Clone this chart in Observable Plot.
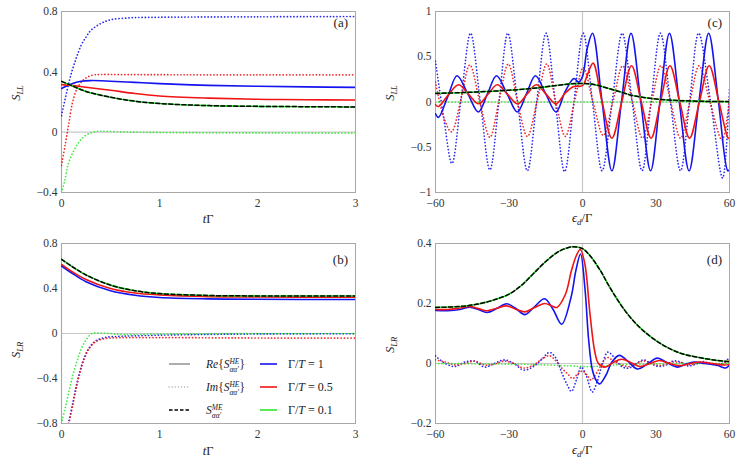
<!DOCTYPE html>
<html><head><meta charset="utf-8">
<script src="https://cdn.jsdelivr.net/npm/d3@7"></script>
<script src="https://cdn.jsdelivr.net/npm/@observablehq/plot@0.6"></script>
<style>
body{margin:0;background:#fff;}
#wrap{position:relative;width:747px;height:467px;overflow:hidden;background:#fff;}
#wrap svg.p{position:absolute;}
#wrap svg.p text{font-family:"Liberation Serif","Times New Roman",serif !important;font-size:11.5px;}
#over{position:absolute;left:0;top:0;}
</style></head>
<body><div id="wrap"></div>
<script>
// ---------- Panel (a): S_LL vs tΓ ----------
const aBlueIm = [[0,0.11],[0.058,0.28],[0.1,0.39],[0.15,0.49],[0.2,0.575],[0.25,0.63],[0.3,0.675],[0.4,0.72],[0.5,0.745],[0.7,0.758],[1,0.762],[2,0.765],[3,0.767]];
const aRedIm = [[0,-0.22],[0.04,-0.075],[0.075,0.057],[0.11,0.19],[0.16,0.29],[0.23,0.35],[0.31,0.377],[0.4,0.382],[0.6,0.382],[1,0.381],[2,0.38],[3,0.38]];
const aGreenIm = [[0,-0.4],[0.03,-0.33],[0.07,-0.21],[0.12,-0.13],[0.18,-0.064],[0.25,-0.02],[0.32,0],[0.4,0.006],[0.6,0.002],[1,-0.002],[2,-0.005],[3,-0.006]];
const aBlueRe = [[0,0.29],[0.1,0.32],[0.2,0.338],[0.3,0.342],[0.5,0.338],[0.75,0.33],[1,0.322],[1.5,0.31],[2,0.304],[2.5,0.3],[3,0.297]];
const aRedRe = [[0,0.315],[0.1,0.31],[0.25,0.298],[0.5,0.278],[0.75,0.256],[1,0.24],[1.5,0.226],[2,0.218],[2.5,0.215],[3,0.213]];
const aGreenRe = [[0,0.337],[0.1,0.31],[0.25,0.27],[0.5,0.232],[0.75,0.205],[1,0.19],[1.5,0.176],[2,0.171],[2.5,0.169],[3,0.167]];
const aME = [[0,0.337],[0.1,0.31],[0.25,0.27],[0.5,0.232],[0.75,0.205],[1,0.19],[1.5,0.176],[2,0.171],[2.5,0.169],[3,0.167]];

// ---------- Panel (b): S_LR vs tΓ ----------
const bBlueRe = [[0,0.6],[0.1,0.54],[0.25,0.46],[0.5,0.38],[0.75,0.34],[1,0.32],[1.5,0.308],[2,0.304],[3,0.302]];
const bRedRe = [[0,0.615],[0.1,0.555],[0.25,0.48],[0.5,0.4],[0.75,0.36],[1,0.343],[1.5,0.328],[2,0.325],[3,0.322]];
const bGreenRe = [[0,0.66],[0.1,0.6],[0.25,0.52],[0.5,0.43],[0.75,0.38],[1,0.355],[1.5,0.338],[2,0.334],[3,0.333]];
const bME = [[0,0.66],[0.1,0.6],[0.25,0.52],[0.5,0.43],[0.75,0.38],[1,0.355],[1.5,0.338],[2,0.334],[3,0.333]];
const bBlueIm = [[0.07,-0.8],[0.11,-0.64],[0.14,-0.51],[0.18,-0.36],[0.23,-0.22],[0.28,-0.13],[0.35,-0.065],[0.45,-0.035],[0.6,-0.025],[0.8,-0.02],[1,-0.015],[1.5,-0.008],[2,-0.004],[3,-0.002]];
const bRedIm = [[0.075,-0.8],[0.115,-0.64],[0.145,-0.51],[0.185,-0.36],[0.235,-0.22],[0.285,-0.13],[0.355,-0.07],[0.45,-0.045],[0.6,-0.038],[1,-0.036],[1.5,-0.038],[2,-0.04],[3,-0.041]];
const bGreenIm = [[0,-0.8],[0.007,-0.77],[0.04,-0.655],[0.075,-0.52],[0.11,-0.39],[0.16,-0.24],[0.21,-0.12],[0.26,-0.047],[0.31,0],[0.38,0.005],[0.48,0],[0.62,-0.01],[1,-0.005],[2,-0.001],[3,0]];

// ---------- Panel (c): S_LL vs ε_d/Γ ----------
const cBlueRe = [[-60,-0.13],[-58.8,-0.17],[-55,0.06],[-51.2,0.29],[-46.8,0.09],[-42.5,-0.11],[-38.8,0.09],[-35.1,0.29],[-30.8,0.09],[-26.6,-0.11],[-22.9,0.09],[-19.2,0.29],[-15,0.09],[-10.8,-0.11],[-7,0.12],[-3.5,0.26],[-1.5,0.22],[0,0.28],[2,0.6],[4.1,0.76],[8,0],[12,-0.76],[15.9,0],[19.8,0.76],[23.8,0],[27.8,-0.76],[31.6,0],[35.5,0.76],[39.5,0],[43.5,-0.76],[47.5,0],[51.5,0.76],[55.5,0],[59.3,-0.76],[60,-0.75]];
const cRedRe = [[-60,-0.03],[-58.8,-0.05],[-55,0.07],[-50.6,0.19],[-46.5,0.085],[-42.4,-0.02],[-38.6,0.085],[-34.8,0.19],[-30.6,0.085],[-26.5,-0.02],[-22.7,0.085],[-18.9,0.19],[-14.8,0.085],[-10.8,-0.02],[-7,0.1],[-3.5,0.17],[0,0.18],[2,0.3],[4.3,0.43],[8,0],[12,-0.4],[16,0],[20,0.4],[24,0],[28,-0.4],[31.8,0],[35.7,0.4],[39.7,0],[43.7,-0.4],[47.7,0],[51.7,0.4],[55.7,0],[59.5,-0.4],[60,-0.4]];
const cBlueIm = [[-60,0.45],[-56.5,-0.2],[-53.3,-0.68],[-49.5,0.05],[-45.7,0.76],[-41.7,0],[-37.8,-0.75],[-34.1,0],[-30.5,0.76],[-26.5,0],[-22.5,-0.76],[-18.7,0],[-14.9,0.76],[-11.1,0],[-7.3,-0.77],[-3.5,0],[0.3,0.76],[4.1,0],[8,-0.76],[12.1,0],[16.2,0.76],[20.3,0],[24.3,-0.76],[28,0],[31.8,0.76],[35.9,0],[40,-0.76],[43.7,0],[47.4,0.76],[52.3,0],[57.2,-0.84],[60,0.15]];
const cRedIm = [[-60,0.22],[-56.5,-0.18],[-53.5,-0.33],[-49.6,0.03],[-46,0.41],[-41.9,0],[-37.8,-0.39],[-34.2,0],[-30.3,0.42],[-26.5,0],[-22.5,-0.38],[-18.6,0],[-14.6,0.42],[-10.9,0],[-7,-0.38],[-3.3,0],[0.3,0.38],[4.3,0],[8.5,-0.37],[12.4,0],[16.4,0.4],[20.4,0],[24.5,-0.4],[28.2,0],[32,0.4],[36,0],[40,-0.4],[43.8,0],[47.6,0.4],[52,0],[57,-0.42],[60,0.05]];
const cGreenIm = [[-60,0],[-30,0],[0,0],[30,0],[60,0]];
const cGreenRe = [[-60,0.095],[-50,0.103],[-40,0.115],[-30,0.13],[-20,0.152],[-10,0.185],[-5,0.2],[0,0.205],[3,0.2],[6,0.185],[10,0.155],[15,0.115],[20,0.075],[25,0.05],[30,0.033],[35,0.022],[40,0.015],[50,0.007],[60,0.004]];
const cME = [[-60,0.095],[-50,0.103],[-40,0.115],[-30,0.13],[-20,0.152],[-10,0.185],[-5,0.2],[0,0.205],[3,0.2],[6,0.185],[10,0.155],[15,0.115],[20,0.075],[25,0.05],[30,0.033],[35,0.022],[40,0.015],[50,0.007],[60,0.004]];

// ---------- Panel (d): S_LR vs ε_d/Γ ----------
const dME = [[-60,0.187],[-50,0.19],[-45,0.195],[-40,0.203],[-35,0.215],[-30,0.231],[-25,0.26],[-20,0.3],[-15,0.34],[-10,0.372],[-6,0.386],[-3.75,0.389],[0,0.383],[3,0.36],[7.5,0.307],[10,0.27],[13,0.229],[17,0.18],[21,0.14],[25,0.108],[30.6,0.073],[35,0.052],[40,0.034],[45,0.024],[51,0.015],[55,0.01],[60,0.006]];
const dGreenRe = [[-60,0.187],[-50,0.19],[-45,0.195],[-40,0.203],[-35,0.215],[-30,0.231],[-25,0.26],[-20,0.3],[-15,0.34],[-10,0.372],[-6,0.386],[-3.75,0.389],[0,0.383],[3,0.36],[7.5,0.307],[10,0.27],[13,0.229],[17,0.18],[21,0.14],[25,0.108],[30.6,0.073],[35,0.052],[40,0.034],[45,0.024],[51,0.015],[55,0.01],[60,0.006]];
const dBlueRe = [[-60,0.177],[-55,0.176],[-50,0.18],[-46,0.188],[-42.5,0.18],[-39,0.17],[-35,0.183],[-31,0.199],[-27.5,0.185],[-23.5,0.163],[-19.5,0.19],[-15.5,0.216],[-12,0.18],[-8.5,0.131],[-4.7,0.22],[-2.7,0.31],[-0.8,0.365],[1,0.25],[2.5,0.08],[4,-0.02],[5.5,-0.055],[7,-0.068],[9.5,-0.04],[12,0.005],[15,0.027],[18.5,0.008],[22.3,-0.018],[26.5,-0.002],[30.5,0.018],[34.5,0.003],[38.6,-0.012],[42,-0.003],[45.4,0.005],[50,0],[55,-0.006],[58.4,-0.015],[60,-0.005]];
const dRedRe = [[-60,0.18],[-55,0.18],[-50,0.185],[-46,0.19],[-42.5,0.183],[-39,0.176],[-35,0.184],[-31,0.192],[-27.5,0.182],[-23.5,0.172],[-19.5,0.187],[-15.5,0.2],[-12.5,0.192],[-10.5,0.187],[-7,0.23],[-4.5,0.31],[-2.5,0.36],[-0.9,0.38],[1,0.33],[3,0.17],[5,0.04],[6.5,0.0],[9.2,-0.012],[12.5,0.003],[16,0.014],[20,0.002],[23.5,-0.01],[27.5,0.0],[31.5,0.01],[35.5,0.0],[39.5,-0.007],[44,0.0],[48,0.005],[53,0.0],[58,-0.005],[60,-0.003]];
const dBlueIm = [[-60,0.025],[-56,0.0],[-52,-0.01],[-48,0.005],[-44,0.008],[-40,-0.012],[-36,0.0],[-32,0.012],[-28,0.0],[-24,-0.022],[-20,-0.01],[-16.5,0.015],[-13.5,0.037],[-11,0.02],[-8.5,-0.03],[-6,-0.075],[-4.5,-0.093],[-2.5,-0.055],[-0.5,-0.012],[1.5,-0.04],[4,-0.095],[6,-0.06],[8,-0.005],[10.3,0.038],[13,0.02],[16,-0.01],[19,-0.015],[22,0.0],[25,0.012],[28,0.0],[31,-0.01],[34,-0.005],[37,0.008],[40,0.005],[43,-0.008],[46,-0.003],[49,0.006],[52,0.0],[55,-0.006],[58,0.005],[60,0.02]];
const dRedIm = [[-60,0.012],[-56,0.005],[-52,-0.005],[-48,0.0],[-44,0.008],[-40,-0.005],[-36,-0.002],[-32,0.008],[-28,0.0],[-24,-0.015],[-20,-0.005],[-16.5,0.015],[-13.5,0.026],[-11,0.01],[-8.5,-0.015],[-6,-0.035],[-4,-0.05],[-2,-0.035],[0,-0.025],[2,-0.04],[3.5,-0.055],[5.5,-0.035],[8,0.0],[10,0.02],[12.5,0.01],[16,-0.005],[19,-0.01],[22,0.0],[25,0.008],[28,0.0],[31,-0.006],[34,-0.003],[37,0.005],[40,0.003],[44,-0.004],[48,0.003],[52,0],[56,-0.003],[60,0.01]];
const dGreenIm = [[-60,0],[-30,-0.002],[-15,-0.005],[-5,-0.008],[0,-0.01],[5,-0.01],[10,-0.008],[15,-0.004],[25,-0.002],[40,0],[60,0]];

// ticks
const tTicks = [0,1,2,3];
const eTicks = [-60,-30,0,30,60];
const aTicks = [-0.4,0,0.4,0.8];
const bTicks = [-0.8,-0.4,0,0.4,0.8];
const cTicks = [-1,-0.5,0,0.5,1];
const dTicks = [-0.2,0,0.2,0.4];

const BLUE = "#1414f0", RED = "#f01414", GREEN = "#2de82d";
const FONT = "'Liberation Serif', 'Times New Roman', serif";
const fmt = d => (d < 0 ? "\u2212" : "") + String(Math.abs(d));

function ln(data, color, kind) {
  const o = {x: d => d[0], y: d => d[1], stroke: color, curve: "catmull-rom", clip: true};
  if (kind === "dot") { o.strokeWidth = 1.7; o.strokeDasharray = "0.1,3.2"; o.strokeLinecap = "round"; o.strokeOpacity = 0.9; }
  else if (kind === "dash") { o.strokeWidth = 1.5; o.strokeDasharray = "4,2.5"; }
  else { o.strokeWidth = 1.6; }
  return Plot.line(data, o);
}

function panel(cfg) {
  const p = Plot.plot({
    width: cfg.w, height: cfg.h,
    marginLeft: 61, marginRight: cfg.mr, marginTop: cfg.mt, marginBottom: cfg.mb,
    style: {fontFamily: FONT, fontSize: "11.5px", color: "#333", background: "transparent"},
    x: {domain: cfg.xd, ticks: cfg.xt, label: null, tickFormat: fmt},
    y: {domain: cfg.yd, ticks: cfg.yt, label: null, tickFormat: fmt},
    marks: [
      Plot.ruleY([0], {stroke: "#c8c8c8", strokeWidth: 1.2}),
      Plot.ruleX([0], {stroke: "#c8c8c8", strokeWidth: 1.2}),
      Plot.frame({stroke: "#a8a8a8", strokeWidth: 1}),
      ...cfg.marks,
      Plot.axisX({ticks: cfg.xt, tickFormat: fmt, tickSize: 0, tickPadding: 6}),
      Plot.axisY({ticks: cfg.yt, tickFormat: fmt, tickSize: 0, tickPadding: 4})
    ]
  });
  p.classList.add("p");
  p.style.left = cfg.left + "px";
  p.style.top = cfg.top + "px";
  p.style.fontFamily = FONT;
  document.getElementById("wrap").appendChild(p);
}

panel({left: 0, top: 0, w: 374, h: 234, mr: 19, mt: 11, mb: 42, xd: [0,3], yd: [-0.4,0.8], xt: tTicks, yt: aTicks,
  marks: [ln(aBlueIm, BLUE, "dot"), ln(aRedIm, RED, "dot"), ln(aGreenIm, GREEN, "dot"),
          ln(aBlueRe, BLUE), ln(aRedRe, RED), ln(aGreenRe, GREEN), ln(aME, "#000", "dash")]});
panel({left: 374, top: 0, w: 373, h: 234, mr: 18, mt: 11, mb: 42, xd: [-60,60], yd: [-1,1], xt: eTicks, yt: cTicks,
  marks: [ln(cBlueIm, BLUE, "dot"), ln(cRedIm, RED, "dot"), ln(cGreenIm, GREEN, "dot"),
          ln(cBlueRe, BLUE), ln(cRedRe, RED), ln(cGreenRe, GREEN), ln(cME, "#000", "dash")]});
panel({left: 0, top: 234, w: 374, h: 233, mr: 19, mt: 9, mb: 44, xd: [0,3], yd: [-0.8,0.8], xt: tTicks, yt: bTicks,
  marks: [ln(bBlueIm, BLUE, "dot"), ln(bRedIm, RED, "dot"), ln(bGreenIm, GREEN, "dot"),
          ln(bBlueRe, BLUE), ln(bRedRe, RED), ln(bGreenRe, GREEN), ln(bME, "#000", "dash")]});
panel({left: 374, top: 234, w: 373, h: 233, mr: 18, mt: 9, mb: 44, xd: [-60,60], yd: [-0.2,0.4], xt: eTicks, yt: dTicks,
  marks: [ln(dBlueIm, BLUE, "dot"), ln(dRedIm, RED, "dot"), ln(dGreenIm, GREEN, "dot"),
          ln(dBlueRe, BLUE), ln(dRedRe, RED), ln(dGreenRe, GREEN), ln(dME, "#000", "dash")]});

// ---------- overlay text: axis titles, panel tags, legend ----------
const over = d3.select("#wrap").append("svg").attr("id", "over").attr("width", 747).attr("height", 467)
  .style("font-family", FONT).attr("fill", "#222");

function rich(x, y, segs, anchor, rot) {
  const g = over.append("g").attr("transform", `translate(${x},${y})` + (rot ? ` rotate(${rot})` : ""));
  const inner = g.append("g");
  let cx = 0;
  const put = (t, size, italic, dy) => {
    const el = inner.append("text").attr("x", cx).attr("y", dy).attr("font-size", size)
      .attr("font-style", italic ? "italic" : "normal").attr("xml:space", "preserve").text(t);
    return el.node().getComputedTextLength();
  };
  for (const s of segs) {
    if (s.sup !== undefined || s.sub !== undefined) {
      const w1 = s.sup ? put(s.sup, s.ss, true, -s.up) : 0;
      const w2 = s.sub ? put(s.sub, s.ss, true, s.down) : 0;
      cx += Math.max(w1, w2) + (s.pad || 0);
    } else {
      cx += put(s.t, s.size, s.i, s.dy || 0);
    }
  }
  if (anchor === "middle") inner.attr("transform", `translate(${-cx/2},0)`);
  if (anchor === "end") inner.attr("transform", `translate(${-cx},0)`);
}

// x-axis titles
const tG = [{t: "t", size: 12.5, i: true}, {t: "Γ", size: 12.5}];
const eG = [{t: "ϵ", size: 12.5, i: true}, {sub: "d", ss: 9, down: 3}, {t: "/Γ", size: 12.5}];
rich(208, 223, tG, "middle");
rich(208, 455, tG, "middle");
rich(582, 222, eG, "middle");
rich(582, 454, eG, "middle");
// y-axis titles
const sLL = [{t: "S", size: 12.5, i: true}, {sub: "LL", ss: 8.5, down: 3}];
const sLR = [{t: "S", size: 12.5, i: true}, {sub: "LR", ss: 8.5, down: 3}];
rich(20, 93, sLL, "middle", -90);
rich(20, 350, sLR, "middle", -90);
rich(394, 93, sLL, "middle", -90);
rich(394, 345, sLR, "middle", -90);
// panel tags
[["(a)", 348, 27], ["(c)", 722, 27], ["(b)", 348, 264], ["(d)", 722, 264]].forEach(([t, x, y]) =>
  over.append("text").attr("x", x).attr("y", y).attr("text-anchor", "end").attr("font-size", 13).text(t));

// legend
const legRows = [
  {y: 364, stroke: "#999", dash: null, w: 1.6, cap: "butt", segs: [{t: "Re", size: 11.5, i: true}, {t: "{", size: 11.5}, {t: "S", size: 11.5, i: true}, {sup: "HE", sub: "αα′", ss: 7.5, up: 4.5, down: 3.5}, {t: "}", size: 11.5}]},
  {y: 387, stroke: "#aaa", dash: "0.1,3", w: 1.3, cap: "round", segs: [{t: "Im", size: 11.5, i: true}, {t: "{", size: 11.5}, {t: "S", size: 11.5, i: true}, {sup: "HE", sub: "αα′", ss: 7.5, up: 4.5, down: 3.5}, {t: "}", size: 11.5}]},
  {y: 410, stroke: "#000", dash: "3.5,2", w: 1.5, cap: "butt", segs: [{t: "S", size: 11.5, i: true}, {sup: "ME", sub: "αα′", ss: 7.5, up: 4.5, down: 3.5}]}
];
legRows.forEach(r => {
  over.append("line").attr("x1", 169).attr("x2", 190).attr("y1", r.y).attr("y2", r.y)
    .attr("stroke", r.stroke).attr("stroke-width", r.w).attr("stroke-dasharray", r.dash).attr("stroke-linecap", r.cap);
  rich(206, r.y + 4, r.segs, "start");
});
const legCols = [[BLUE, "1", 364], [RED, "0.5", 387], [GREEN, "0.1", 410]];
legCols.forEach(([c, v, y]) => {
  over.append("line").attr("x1", 260).attr("x2", 277).attr("y1", y).attr("y2", y).attr("stroke", c).attr("stroke-width", 1.6);
  rich(288, y + 4, [{t: "Γ/", size: 12}, {t: "T", size: 12, i: true}, {t: "\u00a0=\u00a0" + v, size: 12}], "start");
});
</script>
</body></html>
